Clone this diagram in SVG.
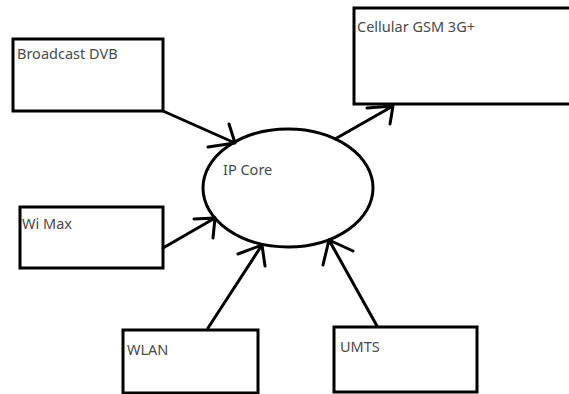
<svg xmlns="http://www.w3.org/2000/svg" width="569" height="394" viewBox="0 0 569 394">
<style>
.box{fill:#fff;stroke:#000;stroke-width:3}
.core{fill:#fff;stroke:#000;stroke-width:3}
.lbl{font-family:"Noto Sans",sans-serif;font-size:14.5px;fill:#4a4a4a}
.con{fill:none;stroke:#000;stroke-width:3;stroke-linecap:round;stroke-linejoin:round}
</style>
<rect width="569" height="394" fill="#fff"/>
<g id="broadcast"><rect class="box" x="13" y="39" width="150" height="72"/><text class="lbl" x="17" y="59">Broadcast DVB</text></g>
<g id="cellular"><rect class="box" x="354" y="8" width="220" height="96"/><text class="lbl" x="357" y="32">Cellular GSM 3G+</text></g>
<g id="wimax"><rect class="box" x="20" y="207" width="143" height="61"/><text class="lbl" x="22" y="229">Wi Max</text></g>
<g id="ipcore"><ellipse class="core" cx="288" cy="188" rx="85" ry="59"/><text class="lbl" x="223" y="175">IP Core</text></g>
<g id="wlan"><rect class="box" x="123" y="330" width="135" height="63"/><text class="lbl" x="127" y="355">WLAN</text></g>
<g id="umts"><rect class="box" x="334" y="327" width="143" height="65"/><text class="lbl" x="340" y="352">UMTS</text></g>
<g id="connectors">
<path class="con" d="M163,111 L235,143 M229,124 L235,143 L208,147"/>
<path class="con" d="M335,139 L393,106 M367,108 L393,106 L390,124"/>
<path class="con" d="M163,248 L215,218 M194,219 L215,218 L213,238"/>
<path class="con" d="M208,328 L262,245 M238,254 L262,245 L265,266"/>
<path class="con" d="M377,326 L329,240 M323,265 L329,240 L353,251"/>
</g>
</svg>
